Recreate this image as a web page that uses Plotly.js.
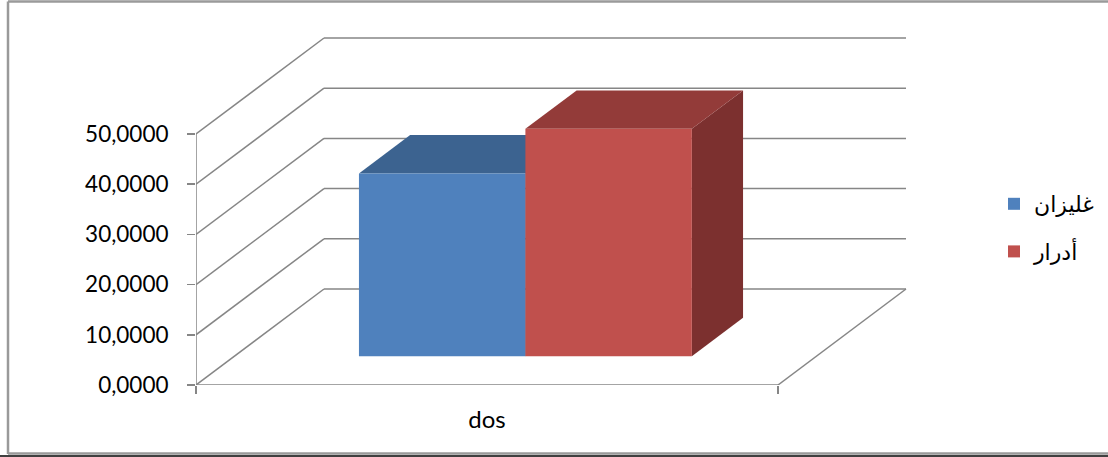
<!DOCTYPE html>
<html>
<head>
<meta charset="utf-8">
<script src="https://cdn.plot.ly/plotly-3.0.1.min.js"></script>
<style>
  html, body { margin: 0; padding: 0; background: #ffffff; }
  #chart { width: 1108px; height: 457px; }
</style>
</head>
<body>
<div id="chart"></div>
<script>
// ---- data ----
const categories = ['dos'];
const seriesNames = ['غليزان', 'أدرار'];
const valuesGhilizane = [36.4];
const valuesAdrar = [45.3];
const tickValues = [0, 10, 20, 30, 40, 50];

// ---- geometry of the oblique 3D box ----
const W = 1108, H = 457;
const M = { l: 196, r: 201, t: 30, b: 72, autoexpand: false };
const plotW = W - M.l - M.r;          // 711
const plotH = H - M.t - M.b;          // 355
const floorPx = 582;                  // front floor width in pixels
const pxPerUnit = 5.02;               // vertical pixels per value unit
const DX = 128 / floorPx;             // depth shift, x (category units)
const DY = 96 / pxPerUnit;            // depth shift, y (value units)
const depthFront = 0.3, depthBack = 0.7;
const sideGap = 0.214;                // empty space each side of the cluster
const gridColor = '#868686';

const seriesValues = [valuesGhilizane, valuesAdrar];
const frontColors = ['#4F81BD', '#C0504D'];
const topColors   = ['#3C6390', '#933B39'];
const sideColors  = ['#314F75', '#7C302F'];

const xMax = plotW / floorPx;
const yMax = plotH / pxPerUnit;

function path(pts) {
  return 'M' + pts.map(p => p[0] + ',' + p[1]).join('L') + 'Z';
}
function line(x0, y0, x1, y1, extra) {
  return Object.assign({
    type: 'line', xref: 'x', yref: 'y', x0, y0, x1, y1,
    layer: 'below', line: { color: gridColor, width: 1.5 }
  }, extra || {});
}

const shapes = [];

// walls: diagonal side-wall lines and back-wall gridlines
tickValues.forEach(v => {
  shapes.push(line(0, v, DX, v + DY));
  shapes.push(line(DX, v + DY, 1 + DX, v + DY));
});
// floor front edge, right edge and the value axis line
shapes.push(line(0, 0, 1, 0));
shapes.push(line(1, 0, 1 + DX, DY));
shapes.push(line(0, 0, 0, tickValues[tickValues.length - 1]));

// bar slots inside each category
const nSeries = seriesNames.length;
const barW = (1 - 2 * sideGap) / nSeries;

const traces = [];
categories.forEach((cat, ci) => {
  seriesNames.forEach((name, si) => {
    const v = seriesValues[si][ci];
    const x0 = ci + sideGap + si * barW;
    const x1 = x0 + barW;
    const fy0 = depthFront * DY, by0 = depthBack * DY;
    const fx = depthFront * DX, bx = depthBack * DX;
    // right side face
    shapes.push({
      type: 'path', xref: 'x', yref: 'y', layer: 'below',
      path: path([[x1 + fx, fy0], [x1 + bx, by0], [x1 + bx, by0 + v], [x1 + fx, fy0 + v]]),
      fillcolor: sideColors[si], line: { width: 0 }
    });
    // top face
    shapes.push({
      type: 'path', xref: 'x', yref: 'y', layer: 'below',
      path: path([[x0 + fx, fy0 + v], [x1 + fx, fy0 + v], [x1 + bx, by0 + v], [x0 + bx, by0 + v]]),
      fillcolor: topColors[si], line: { width: 0 }
    });
  });
});

// front faces as bars
seriesNames.forEach((name, si) => {
  traces.push({
    type: 'bar',
    name: name,
    legendgroup: 'g' + si,
    x: categories.map((c, ci) => ci + sideGap + si * barW + barW / 2 + depthFront * DX),
    y: seriesValues[si],
    base: categories.map(() => depthFront * DY),
    width: categories.map(() => barW),
    marker: { color: frontColors[si], line: { width: 0 } },
    hoverinfo: 'skip'
  });
});

// chart border
function px2x(px) { return (px - M.l) / plotW; }
function py2y(py) { return (H - M.b - py) / plotH; }
const border = { color: '#9a9a9a', width: 2.5 };
shapes.push({ type: 'line', xref: 'paper', yref: 'paper', x0: px2x(8), y0: py2y(1.5), x1: px2x(8), y1: py2y(454), line: border });
shapes.push({ type: 'line', xref: 'paper', yref: 'paper', x0: px2x(8), y0: py2y(1.5), x1: px2x(1110), y1: py2y(1.5), line: border });
shapes.push({ type: 'line', xref: 'paper', yref: 'paper', x0: px2x(8), y0: py2y(453.5), x1: px2x(1110), y1: py2y(453.5), line: border });
shapes.push({ type: 'line', xref: 'paper', yref: 'paper', x0: px2x(0), y0: py2y(456), x1: px2x(1110), y1: py2y(456), line: { color: '#000000', width: 1.5 } });

const fontFamily = 'Lato, "Open Sans", sans-serif';

const layout = {
  width: W, height: H,
  margin: M,
  paper_bgcolor: '#ffffff', plot_bgcolor: 'rgba(0,0,0,0)',
  separators: ', ',
  barmode: 'overlay',
  showlegend: true,
  legend: {
    x: px2x(994), y: py2y(183), xanchor: 'left', yanchor: 'top',
    tracegroupgap: 16,
    font: { family: '"DejaVu Sans", sans-serif', size: 22, color: '#000000' },
    bgcolor: 'rgba(0,0,0,0)'
  },
  xaxis: {
    range: [0, xMax], fixedrange: true,
    tickmode: 'array', tickvals: categories.map((c, i) => i + 0.5), ticktext: categories,
    ticks: '', showgrid: false, zeroline: false, showline: false,
    ticklabelstandoff: 18,
    tickfont: { family: fontFamily, size: 24, color: '#000000' },
    minor: { tickmode: 'array', tickvals: [0, categories.length], ticks: 'outside', ticklen: 8, tickwidth: 1.5, tickcolor: gridColor, showgrid: false }
  },
  yaxis: {
    range: [0, yMax], fixedrange: true,
    tickmode: 'array', tickvals: tickValues, tickformat: '.4f',
    ticks: 'outside', ticklen: 8, tickwidth: 1.5, tickcolor: gridColor,
    showgrid: false, zeroline: false, showline: false,
    ticklabelstandoff: 14,
    tickfont: { family: fontFamily, size: 22.5, color: '#000000' }
  },
  shapes: shapes
};

Plotly.newPlot('chart', traces, layout, { staticPlot: true, displayModeBar: false });
</script>
</body>
</html>
